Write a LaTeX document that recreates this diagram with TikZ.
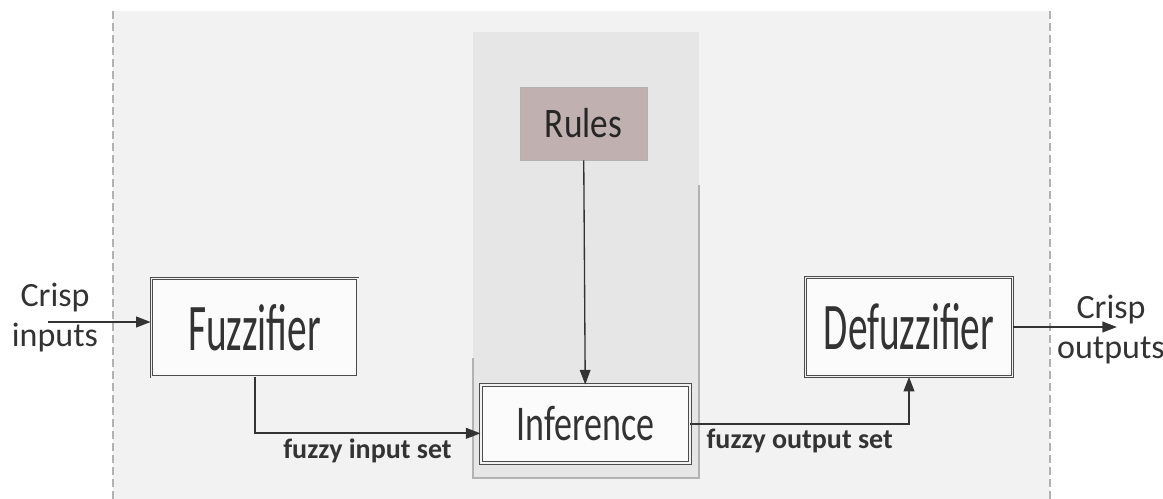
\documentclass[tikz,border=0pt]{standalone}
\usepackage{fontspec}
\setmainfont{Carlito}
\newfontfamily\blockfont[FakeStretch=0.59]{Carlito}
\newfontfamily\inffont[FakeStretch=0.72]{Carlito}
\newfontfamily\rulefont[FakeStretch=0.84]{Carlito}
\usetikzlibrary{arrows.meta}
\definecolor{panel}{HTML}{F2F2F2}
\definecolor{innerpanel}{HTML}{E6E6E6}
\definecolor{rulefill}{HTML}{C0B0B0}
\definecolor{ink}{HTML}{333333}
\begin{document}
\begin{tikzpicture}[x=0.75pt, y=-0.75pt, >={Triangle[length=11pt,width=8pt]},
  block/.style={draw=gray!60!black, line width=0.7pt, double=white!90!gray, double distance=1pt, fill=white!97!gray, text=ink, inner sep=0pt, minimum width=155pt, minimum height=74pt},
  flow/.style={->, line width=1.5pt, ink},
  lbl/.style={text=ink, align=center, font=\fontsize{25.5}{30}\selectfont},
  setlbl/.style={text=ink, font=\fontsize{21}{24}\selectfont\bfseries}]
\useasboundingbox (0,0) rectangle (1163,499);
% system panel and inference engine panel
\fill[panel] (113,11) rectangle (1050,499);
\draw[gray!60, line width=1.2pt, dash pattern=on 6pt off 3pt] (113,11) -- (113,499) (1050,11) -- (1050,499);
\fill[innerpanel] (473,32) rectangle (699,478);
\draw[gray!60, line width=0.8pt] (473,358) -- (473,478) -- (699,478) -- (699,185);
% blocks
\node[block, font=\blockfont\fontsize{50}{55}\selectfont] (fuzz) at (254.5,327.5) {Fuzzifier};
\node[block, font=\blockfont\fontsize{50}{55}\selectfont] (defuzz) at (909,327) {Defuzzifier};
\node[block, minimum width=156.75pt, minimum height=58.5pt, font=\inffont\fontsize{37.5}{40}\selectfont] (inf) at (585.5,424) {Inference};
\node[draw=gray!60, fill=rulefill, minimum width=95pt, minimum height=55pt, text=black!85, font=\rulefont\fontsize{31.5}{34}\selectfont] (rules) at (583.5,123.5) {Rules};
% crisp in/out
\node[lbl] (inlbl) at (55,318) {Crisp\\inputs};
\node[lbl] (outlbl) at (1111,330) {Crisp\\outputs};
\coordinate (inStart) at (48,322);
\coordinate (outEnd) at (1117,330);
% connectors
\draw[flow] (inStart) -- (inStart -| fuzz.west);
\draw[flow] (fuzz.south) |- ([yshift=-7pt]inf.west) node[pos=0.75, below, setlbl] {fuzzy input set};
\draw[flow, line width=1pt] (rules) -- (inf);
\draw[flow] (inf.east) -| (defuzz.south) node[pos=0.25, below, setlbl] {fuzzy output set};
\draw[flow] (defuzz.east) -- (defuzz.east -| outEnd);
\end{tikzpicture}
\end{document}
